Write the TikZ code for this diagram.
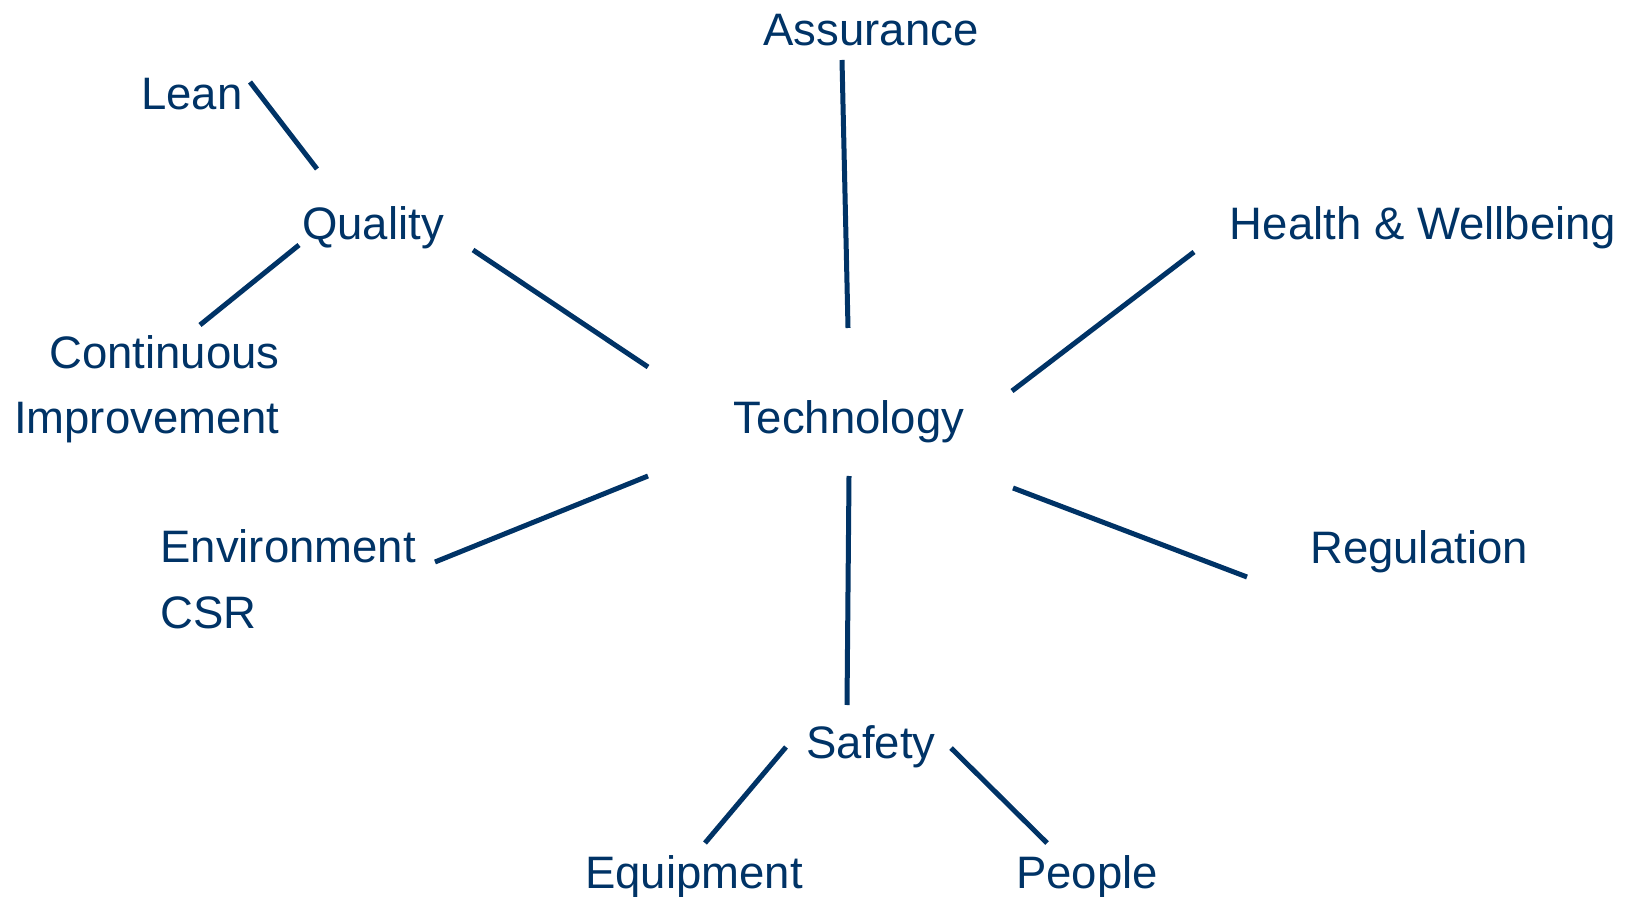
\documentclass[tikz,border=0pt]{standalone}
\usepackage{fontspec}
\setmainfont{Liberation Sans}
\usetikzlibrary{positioning}
\definecolor{navy}{RGB}{0,51,102}

\begin{document}
\begin{tikzpicture}[x=0.5pt,y=-0.5pt,
    word/.style={text=navy,inner sep=0pt,font=\fontsize{22.75pt}{32.75pt}\selectfont},
    link/.style={draw=navy,line width=2.5pt}]
      \useasboundingbox (0,0) rectangle (1626,897);
      % centre
      \node[word,anchor=base] (tech) at (849,434) {Technology};
      % top
      \node[word,anchor=base] (assur) at (871,46) {Assurance};
      \node[word,anchor=base] (health) at (1423,240) {Health \& Wellbeing};
      \node[word,anchor=base] (reg) at (1419,563) {Regulation};
      % left branch
      \node[word,anchor=base] (qual) at (373,240) {Quality};
      \node[word,anchor=base] (lean) at (192,110) {Lean};
      \node[word,anchor=base east,align=right] (cont) at (280,434) {Continuous\\Improvement};
      \node[word,anchor=base west,align=left] (env) at (160,628) {Environment\\CSR};
      % bottom branch
      \node[word,anchor=base] (safety) at (871,758) {Safety};
      \node[word,anchor=base] (equip) at (694,888) {Equipment};
      \node[word,anchor=base] (people) at (1087,888) {People};
      % spokes
      \draw[link] ([shift={(-29,14)}]assur.base) -- ([shift={(-1,-106)}]tech.base);
      \draw[link] ([shift={(100,10)}]qual.base) -- ([shift={(-201,-67)}]tech.base);
      \draw[link] ([shift={(-229,12)}]health.base) -- ([shift={(163,-43)}]tech.base);
      \draw[link] ([shift={(275,-66)}]env.base west) -- ([shift={(-201,42)}]tech.base);
      \draw[link] ([shift={(-172,14)}]reg.base) -- ([shift={(164,54)}]tech.base);
      \draw[link] ([shift={(0,42)}]tech.base) -- ([shift={(-24,-53)}]safety.base);
      % sub branches
      \draw[link] ([shift={(58,-28)}]lean.base) -- ([shift={(-56,-71)}]qual.base);
      \draw[link] ([shift={(-74,5)}]qual.base) -- ([shift={(-80,-109)}]cont.base east);
      \draw[link] ([shift={(-85,-11)}]safety.base) -- ([shift={(11,-45)}]equip.base);
      \draw[link] ([shift={(80,-10)}]safety.base) -- ([shift={(-40,-45)}]people.base);
\end{tikzpicture}
\end{document}
